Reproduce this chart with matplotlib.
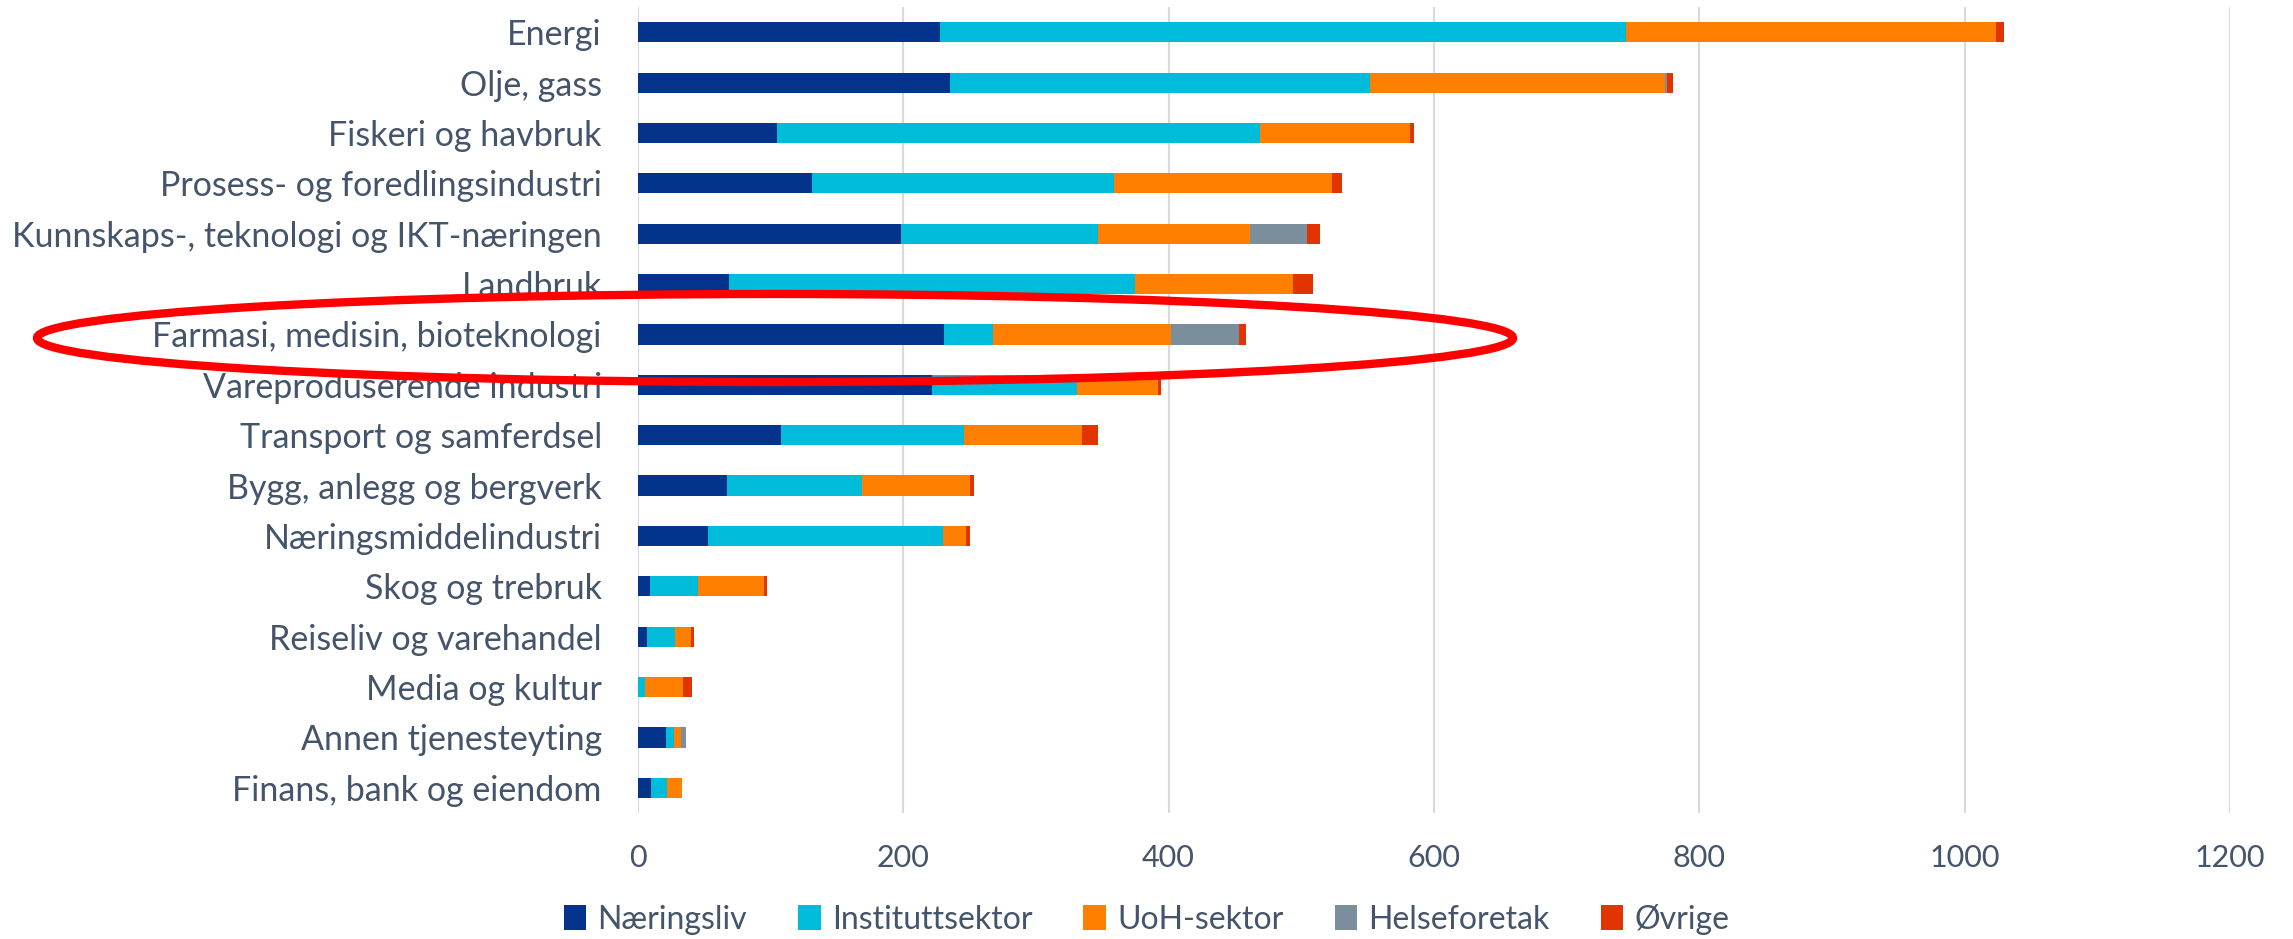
import numpy as np
import matplotlib
matplotlib.use("Agg")
import matplotlib.pyplot as plt
from matplotlib.patches import Ellipse

plt.rcParams['font.family'] = ['Lato', 'DejaVu Sans']

categories = ["Energi", "Olje, gass", "Fiskeri og havbruk", "Prosess- og foredlingsindustri",
              "Kunnskaps-, teknologi og IKT-næringen", "Landbruk", "Farmasi, medisin, bioteknologi",
              "Vareproduserende industri", "Transport og samferdsel", "Bygg, anlegg og bergverk",
              "Næringsmiddelindustri", "Skog og trebruk", "Reiseliv og varehandel", "Media og kultur",
              "Annen tjenesteyting", "Finans, bank og eiendom"]

naeringsliv = [228, 235, 105, 131, 198, 69, 231, 222, 108, 67, 53, 9, 6.5, 0, 21, 10]
institutt   = [517, 317, 364, 228, 149, 306, 37, 109, 138, 102, 177, 36, 21.5, 5.6, 6, 12]
uoh         = [279, 222, 113, 164, 114, 119, 134, 61, 89, 81, 17, 50, 12, 28.6, 5.6, 11]
helse       = [0, 2, 0, 0, 43, 0, 51, 0, 0, 0, 0, 0, 0, 0, 4, 0]
ovrige      = [6, 4, 3, 8, 10, 15, 5, 2, 12, 3, 3, 2, 2.6, 6.5, 0, 0]

series = ["Næringsliv", "Instituttsektor", "UoH-sektor", "Helseforetak", "Øvrige"]
colors = ["#03338A", "#00BCDB", "#FF7F00", "#7A8F9B", "#E03500"]
text_color = "#44546A"

fig = plt.figure(figsize=(22.93, 9.39), dpi=100)
ax = fig.add_axes([0.2782, 0.1342, 0.6943, 0.8583])

y = np.arange(len(categories))
left = np.zeros(len(categories))
for name, vals, c in zip(series, [naeringsliv, institutt, uoh, helse, ovrige], colors):
    vals = np.array(vals, dtype=float)
    ax.barh(y, vals, left=left, height=0.4, color=c, label=name, zorder=3)
    left += vals

ax.set_ylim(len(categories) - 0.5, -0.5)
ax.set_xlim(0, 1200)
ax.set_xticks([0, 200, 400, 600, 800, 1000, 1200])
ax.set_yticks(y)
ax.set_yticklabels(categories)
ax.grid(axis='x', color='#D9D9E3', linewidth=1.5, zorder=0)
for s in ['top', 'right', 'bottom', 'left']:
    ax.spines[s].set_visible(False)
ax.tick_params(axis='y', length=0, pad=26, labelsize=24.5, labelcolor=text_color)
ax.tick_params(axis='x', length=0, pad=22, labelsize=22, labelcolor=text_color)

leg = fig.legend(loc='center', bbox_to_anchor=(0.5, 0.021), ncol=5, frameon=False,
                 fontsize=23, handlelength=0.7, handleheight=0.8, handletextpad=0.35,
                 columnspacing=1.6)
for t in leg.get_texts():
    t.set_color(text_color)

ell = Ellipse((775 / 2293, 1 - 338 / 939), 1476 / 2293, 88 / 939,
              transform=fig.transFigure, facecolor='none', edgecolor='#FF0000',
              linewidth=6, zorder=10)
fig.add_artist(ell)

fig.savefig("out.png", dpi=100)
